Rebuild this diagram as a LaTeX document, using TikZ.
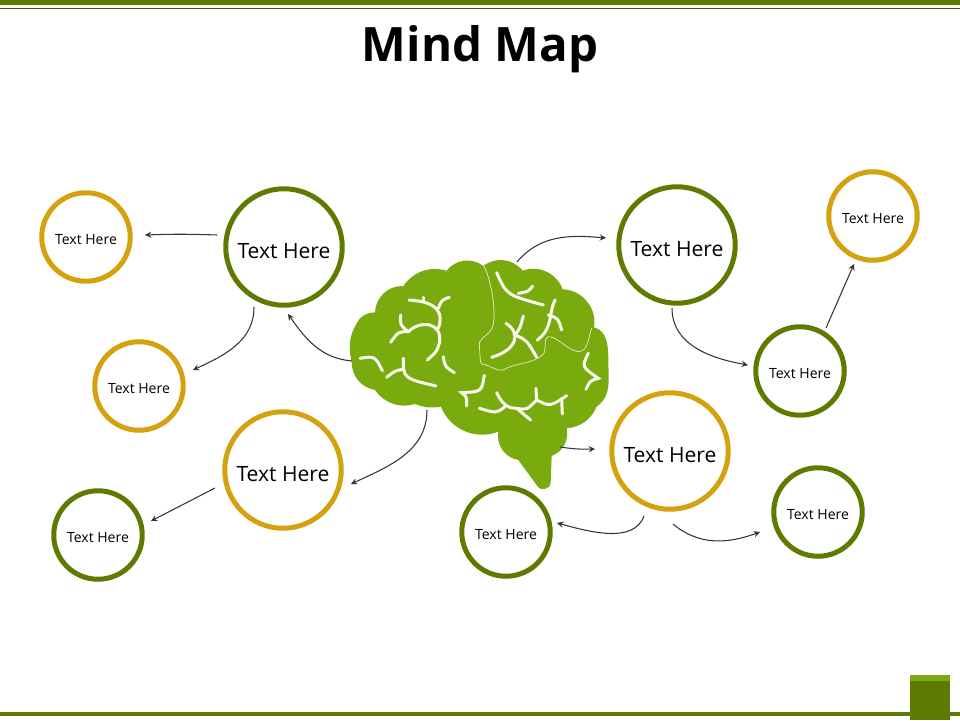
\documentclass[tikz,border=0pt]{standalone}
\usepackage{fontspec}
\setmainfont{Open Sans}
\usepackage{tikz}
\usetikzlibrary{calc,positioning,arrows}

\definecolor{darkgreen}{HTML}{5E7A00}
\definecolor{braingreen}{HTML}{7AAB0E}
\definecolor{mustard}{HTML}{D4A10F}
\definecolor{veinwhite}{HTML}{F8FAEC}

\tikzset{
	bubblebig/.style={shape=circle,draw,line width=0.1cm,minimum size=2.33cm,inner sep=0,text height=13.4pt,font=\fontsize{12}{15}\selectfont},
	bubblesmall/.style={shape=circle,draw,line width=0.1cm,minimum size=1.77cm,inner sep=0,text height=9.1pt,font=\fontsize{8}{10}\selectfont},
	sulcus/.style={draw=veinwhite,line width=0.06cm,line cap=round},
	fissure/.style={draw=veinwhite!80!braingreen,line width=0.015cm},
	link/.style={black!80,line width=0.6pt,->,>=stealth}
}

\begin{document}
\begin{tikzpicture}[x=0.02cm,y=-0.02cm]
		\useasboundingbox (0,0) rectangle (960,720);

		% header and footer
		\fill[darkgreen] (0,0) rectangle (960,5);
		\fill[darkgreen!70!black] (0,8) rectangle (960,9);
		\fill[darkgreen] (0,712) rectangle (960,716);
		\fill[darkgreen] (910,675) rectangle (950,720);
		\fill[braingreen] (910,675) rectangle (950,681);
		\node(title) [font=\bfseries\fontsize{27}{32}\selectfont] at (480,49) {Mind Map};

		% brain
		\begin{scope}[shift={(340,250)},x=0.00667cm,y=-0.00667cm]
			\fill[braingreen] (430,48) to[bend left=45] (548,62) to[bend left=45] (668,118)
				to[bend left=50] (762,232) to[out=-15,in=90] (805,330) to[out=-90,in=35] (770,470)
				to[bend left=30] (680,535) to[bend left=40] (635,618) -- (632,700)
				to[bend left=70] (595,712) -- (535,630) to[bend left=45] (475,545)
				to[bend left=45] (303,470) to[bend left=15] (225,462) to[bend left=35] (105,420)
				to[bend left=40] (35,335) to[bend left=25] (60,205) to[bend left=20] (105,187)
				to[bend left=45] (190,108) to[bend left=35] (320,62) to[bend left=45] (430,48) -- cycle;
			\draw[fissure] (430,45) .. controls (455,90) and (470,190) .. (458,230)
				.. controls (450,255) and (415,265) .. (418,285) .. controls (420,310) and (420,340) .. (425,342)
				.. controls (450,345) and (470,365) .. (490,360) .. controls (520,340) and (590,340) .. (612,310)
				.. controls (620,290) and (610,262) .. (625,260) .. controls (655,260) and (680,300) .. (715,305)
				.. controls (745,305) and (745,260) .. (755,235);
			\draw[sulcus] (470,68) .. controls (500,135) .. (610,165);
			\draw[sulcus] (535,130) .. controls (565,125) .. (578,108);
			\draw[sulcus] (645,150) .. controls (625,190) and (640,235) .. (592,270);
			\draw[sulcus] (625,195) .. controls (655,205) .. (665,240);
			\draw[sulcus] (498,220) .. controls (545,250) and (530,300) .. (455,322);
			\draw[sulcus] (550,198) .. controls (540,235) .. (525,255) .. controls (560,270) .. (590,322);
			\draw[sulcus] (207,150) .. controls (300,155) and (310,195) .. (295,235);
			\draw[sulcus] (328,142) .. controls (305,150) .. (295,175);
			\draw[sulcus] (250,142) -- (250,155);
			\draw[sulcus] (152,277) .. controls (175,245) .. (205,245) .. controls (240,210) and (310,215) .. (298,280) .. controls (290,305) .. (262,330);
			\draw[sulcus] (182,195) .. controls (180,225) .. (205,245);
			\draw[sulcus] (60,325) .. controls (105,318) .. (127,362);
			\draw[sulcus] (140,382) .. controls (165,362) .. (190,358);
			\draw[sulcus] (190,325) .. controls (190,385) .. (288,408);
			\draw[sulcus] (310,320) .. controls (315,350) .. (343,368);
			\draw[sulcus] (433,376) .. controls (425,425) .. (365,428) .. controls (380,440) .. (380,468);
			\draw[sulcus] (418,475) .. controls (470,490) .. (495,470);
			\draw[sulcus] (470,428) .. controls (490,470) and (510,475) .. (530,475) .. controls (560,480) .. (590,450) .. controls (630,470) .. (680,437);
			\draw[sulcus] (588,415) -- (590,450);
			\draw[sulcus] (665,445) -- (667,492);
			\draw[sulcus] (530,475) -- (572,510);
			\draw[sulcus] (745,310) .. controls (725,350) .. (775,385) .. controls (750,392) .. (738,418);
		\end{scope}

		% bubbles
		\node(lefttop) [bubblebig,draw=darkgreen] at (284,247) {Text Here};
		\node(leftbottom) [bubblebig,draw=mustard] at (283,470) {Text Here};
		\node(righttop) [bubblebig,draw=darkgreen] at (677,245) {Text Here};
		\node(rightbottom) [bubblebig,draw=mustard] at (670,451) {Text Here};
		\node(ltone) [bubblesmall,draw=mustard] at (86,237) {Text Here};
		\node(lttwo) [bubblesmall,draw=mustard] at (139,386) {Text Here};
		\node(lbone) [bubblesmall,draw=darkgreen] at (98,535) {Text Here};
		\node(rtone) [bubblesmall,draw=darkgreen] at (800,371) {Text Here};
		\node(rttwo) [bubblesmall,draw=mustard] at (873,216) {Text Here};
		\node(rbone) [bubblesmall,draw=darkgreen] at (506,532) {Text Here};
		\node(rbtwo) [bubblesmall,draw=darkgreen] at (818,512) {Text Here};

		% free ends of the connectors
		\coordinate(a1) at (217,235); \coordinate(a2) at (145,235);
		\coordinate(b1) at (254,307); \coordinate(b2) at (193,370);
		\coordinate(c1) at (352,361); \coordinate(c2) at (288,314);
		\coordinate(d1) at (427,410); \coordinate(d2) at (351,484);
		\coordinate(e1) at (215,488); \coordinate(e2) at (151,521);
		\coordinate(f1) at (517,262); \coordinate(f2) at (606,238);
		\coordinate(g1) at (672,308); \coordinate(g2) at (748,365);
		\coordinate(h1) at (826,328); \coordinate(h2) at (854,264);
		\coordinate(i1) at (560,447); \coordinate(i2) at (595,449);
		\coordinate(j1) at (644,516); \coordinate(j2) at (557,523);
		\coordinate(k1) at (673,524); \coordinate(k2) at (760,532);

		\path[link]
			(a1) edge [bend right=2] (a2)
			(b1) edge [out=-90,in=25] (b2)
			(c1) edge [out=175,in=-55] (c2)
			(d1) edge [out=-90,in=25] (d2)
			(e1) edge (e2)
			(f1) edge [out=50,in=175] (f2)
			(g1) edge [out=-90,in=170] (g2)
			(h1) edge (h2)
			(i1) edge [bend right=5] (i2)
			(j1) edge [out=-110,in=-15,looseness=0.9] (j2)
			(k1) edge [out=-40,in=200] (k2);
	\end{tikzpicture}
\end{document}
